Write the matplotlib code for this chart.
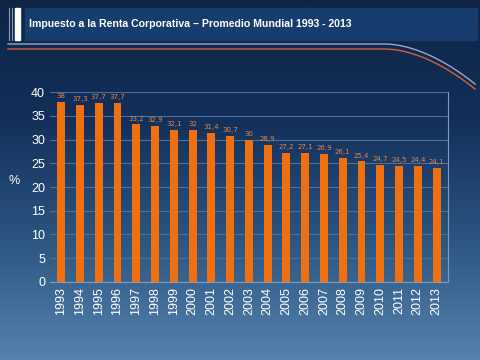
import numpy as np
import matplotlib.pyplot as plt
from matplotlib.patches import Rectangle
from matplotlib.colors import LinearSegmentedColormap

years = [str(y) for y in range(1993, 2014)]
rates = [38, 37.3, 37.7, 37.7, 33.2, 32.9, 32.1, 32, 31.4, 30.7, 30,
         28.9, 27.2, 27.1, 26.9, 26.1, 25.4, 24.7, 24.5, 24.4, 24.1]
labels = ['38', '37,3', '37,7', '37,7', '33,2', '32,9', '32,1', '32', '31,4', '30,7', '30',
          '28,9', '27,2', '27,1', '26,9', '26,1', '25,4', '24,7', '24,5', '24,4', '24,1']
title = 'Impuesto a la Renta Corporativa \u2013 Promedio Mundial 1993 - 2013'

fig = plt.figure(figsize=(4.8, 3.6), dpi=100)

# background gradient
bg = fig.add_axes([0, 0, 1, 1])
cmap = LinearSegmentedColormap.from_list('bg', ['#0e2548', '#13305a', '#2c5582', '#5583ad'])
grad = np.linspace(0, 1, 256).reshape(-1, 1)
bg.imshow(grad, aspect='auto', cmap=cmap, extent=[0, 480, 360, 0])
bg.set_xlim(0, 480)
bg.set_ylim(360, 0)
bg.axis('off')

# header banner
bg.add_patch(Rectangle((25, 8), 452, 32, color='#173d6e', zorder=2))
bg.add_patch(Rectangle((15, 8), 5, 32, color='white', zorder=3))
bg.plot([9, 9], [8, 40], color='#8a9bb5', lw=0.8, zorder=3)
bg.plot([12, 12], [8, 40], color='#8a9bb5', lw=0.8, zorder=3)
bg.text(29, 24, title, color='white', fontsize=7.6, fontweight='bold',
        family='Liberation Sans', va='center', ha='left', zorder=4)

# swoosh lines
t = np.linspace(0, 1, 50)
for y0, col in [(44, '#9aa8c0'), (49, '#d0623a')]:
    xs = np.concatenate([[8], 385 + 90 * t])
    ys = np.concatenate([[y0], y0 + 40 * t ** 1.8])
    bg.plot(xs, ys, color=col, lw=1.0, zorder=3)

ax = fig.add_axes([0.104, 0.217, 0.829, 0.527])
ax.set_facecolor('none')
x = np.arange(len(years))
ax.bar(x, rates, width=0.42, color='#f0700f', zorder=3)
for xi, v, lab in zip(x, rates, labels):
    ax.text(xi, v + 0.6, lab, color='#e0864a', fontsize=5, ha='center', va='bottom')

ax.set_ylim(0, 40)
ax.set_xlim(-0.6, len(years) - 0.4)
ax.set_yticks(range(0, 41, 5))
ax.set_xticks(x)
ax.set_xticklabels(years, rotation=90)
ax.tick_params(colors='white', labelsize=9, length=0)
for lab in ax.get_xticklabels() + ax.get_yticklabels():
    lab.set_family('Liberation Sans')
ax.yaxis.grid(True, color='#4d6f98', lw=0.8)
ax.set_axisbelow(True)
for s in ['top', 'left']:
    ax.spines[s].set_visible(False)
for s in ['bottom', 'right']:
    ax.spines[s].set_color('#7f9cc0')
    ax.spines[s].set_linewidth(0.8)
ax.set_ylabel('%', color='white', fontsize=9, rotation=0, family='Liberation Sans', labelpad=12)

fig.savefig('out.png', dpi=100)
